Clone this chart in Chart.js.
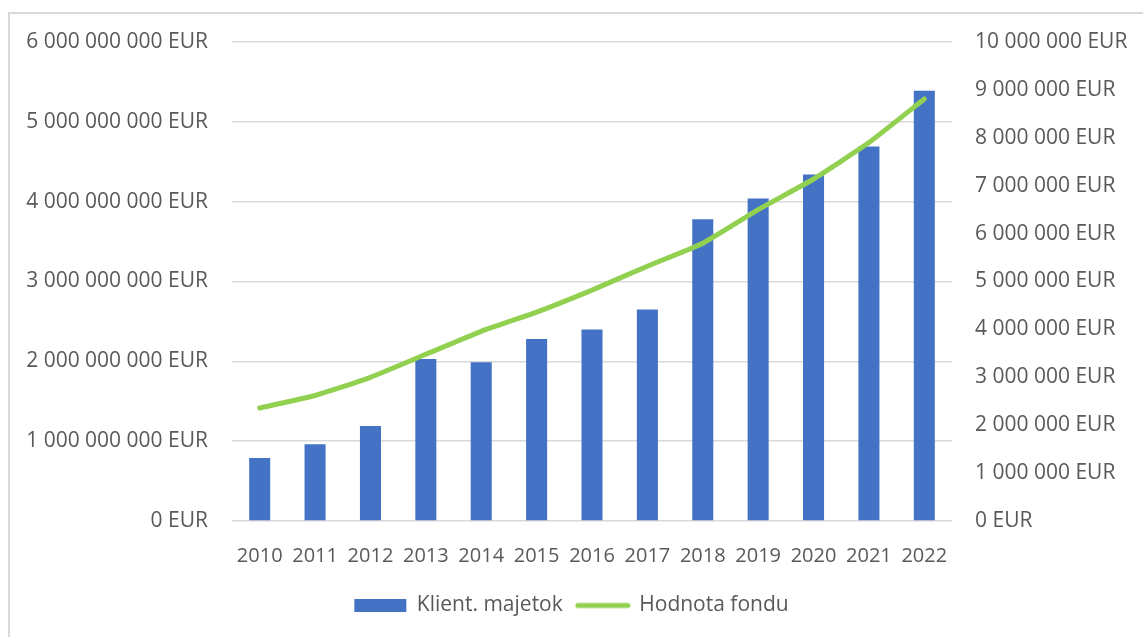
<!DOCTYPE html>
<html>
<head>
<meta charset="utf-8">
<script src="https://cdn.jsdelivr.net/npm/chart.js@4"></script>
<style>
  html, body { margin: 0; padding: 0; background: #fff; overflow: hidden; }
  #frame { position: absolute; left: 8px; top: 12px; width: 1150px; height: 640px; border: 2px solid #d9d9d9; box-sizing: border-box; }
  #wrap { position: absolute; left: 0; top: 0; width: 1143px; height: 637px; }
</style>
</head>
<body>
<div id="frame"></div>
<div id="wrap"><canvas id="chart"></canvas></div>
<script>
const years = ["2010", "2011", "2012", "2013", "2014", "2015", "2016", "2017", "2018", "2019", "2020", "2021", "2022"];
const klientMajetok = [790000000, 960000000, 1190000000, 2030000000, 1990000000, 2280000000, 2400000000, 2650000000, 3780000000, 4040000000, 4340000000, 4690000000, 5390000000];
const hodnotaFondu = [2360000, 2620000, 3000000, 3480000, 3960000, 4360000, 4820000, 5320000, 5800000, 6500000, 7140000, 7900000, 8810000];
const leftTicks = [0, 1000000000, 2000000000, 3000000000, 4000000000, 5000000000, 6000000000];
const rightTicks = [0, 1000000, 2000000, 3000000, 4000000, 5000000, 6000000, 7000000, 8000000, 9000000, 10000000];

const fmt = v => String(v).replace(/\B(?=(\d{3})+(?!\d))/g, " ") + " EUR";
const gray = "#595959";
const green = "#92D050";
const font = { family: "'Open Sans'", size: 21 };

Chart.defaults.font.family = "'Open Sans'";
Chart.defaults.color = gray;

// little green stroke for the line legend entry
const lineKey = document.createElement("canvas");
lineKey.width = 58;
lineKey.height = 8;
const lk = lineKey.getContext("2d");
lk.strokeStyle = green;
lk.lineWidth = 5;
lk.lineCap = "round";
lk.beginPath();
lk.moveTo(4, 4);
lk.lineTo(54, 4);
lk.stroke();

new Chart(document.getElementById("chart").getContext("2d"), {
  data: {
    labels: years,
    datasets: [
      {
        type: "bar",
        label: "Klient. majetok",
        data: klientMajetok,
        backgroundColor: "#4472C4",
        yAxisID: "y",
        order: 1,
        barPercentage: 0.38,
        categoryPercentage: 1,
        pointStyle: "rect",
      },
      {
        type: "line",
        label: "Hodnota fondu",
        data: hodnotaFondu,
        borderColor: green,
        backgroundColor: green,
        borderWidth: 5,
        borderCapStyle: "round",
        borderJoinStyle: "round",
        pointRadius: 0,
        tension: 0.15,
        yAxisID: "y1",
        order: 0,
      },
    ],
  },
  options: {
    responsive: true,
    maintainAspectRatio: false,
    animation: false,
    layout: { padding: { left: 0, right: 0, top: 42, bottom: 11 } },
    plugins: {
      tooltip: { enabled: false },
      legend: {
        position: "bottom",
        labels: {
          font: font,
          color: gray,
          usePointStyle: true,
          pointStyleWidth: 52,
          boxHeight: 13,
          padding: 14,
          sort: (a, b) => a.datasetIndex - b.datasetIndex,
          generateLabels: chart => {
            const items = Chart.defaults.plugins.legend.labels.generateLabels(chart);
            items.forEach(it => {
              if (it.datasetIndex === 1) it.pointStyle = lineKey;
            });
            return items;
          },
        },
      },
    },
    scales: {
      x: {
        grid: { display: false },
        border: { display: false },
        ticks: { font: { family: "'Open Sans'", size: 20 }, color: gray, padding: 15 },
        afterFit: s => { s.height = 60; },
      },
      y: {
        position: "left",
        min: 0,
        max: 6000000000,
        afterBuildTicks: s => { s.ticks = leftTicks.map(v => ({ value: v })); },
        grid: { color: "#d9d9d9", lineWidth: 1.5, drawTicks: false },
        border: { display: false },
        ticks: { font: font, color: gray, padding: 24, callback: v => fmt(v) },
        afterFit: s => { s.width = 232; },
      },
      y1: {
        position: "right",
        min: 0,
        max: 10000000,
        afterBuildTicks: s => { s.ticks = rightTicks.map(v => ({ value: v })); },
        grid: { display: false, drawTicks: false },
        border: { display: false },
        ticks: { font: font, color: gray, padding: 23, callback: v => fmt(v) },
        afterFit: s => { s.width = 191; },
      },
    },
  },
});
</script>
</body>
</html>
